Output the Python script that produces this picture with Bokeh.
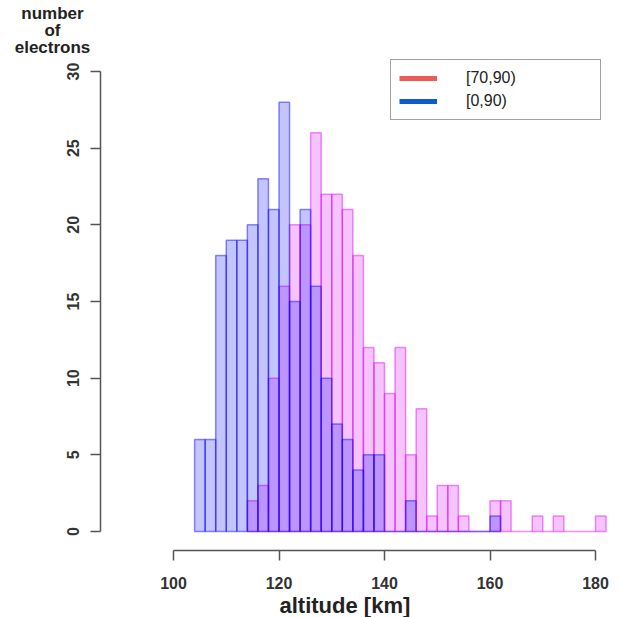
import math
from bokeh.plotting import figure
from bokeh.models import Range1d, Title, Legend, LegendItem, LinearAxis, FixedTicker, ColumnDataSource
from bokeh.embed import file_html
from bokeh.resources import INLINE

# ---- data ----
bin_width = 2
blue_start = 104   # [0,90)
blue_counts = [6, 6, 18, 19, 19, 20, 23, 21, 28, 15, 21, 16, 10, 7, 6, 4, 5, 5,
               0, 0, 2, 0, 0, 0, 0, 0, 0, 0, 1]
pink_start = 114   # [70,90)
pink_counts = [2, 3, 10, 16, 20, 20, 26, 22, 22, 21, 18, 12, 11, 9, 12, 5, 8, 1,
               3, 3, 1, 0, 0, 2, 2, 0, 0, 1, 0, 1, 0, 0, 0, 1]
x_ticks = [100, 120, 140, 160, 180]
y_ticks = [0, 5, 10, 15, 20, 25, 30]
legend_labels = ["[70,90)", "[0,90)"]
y_title_lines = ["number", "of", "electrons"]
x_title = "altitude [km]"

def hist_source(start, counts):
    left = [start + i * bin_width for i in range(len(counts))]
    right = [l + bin_width for l in left]
    return ColumnDataSource(dict(left=left, right=right, top=counts, bottom=[0] * len(counts)))

W, H = 619, 617
FL, FB = 100, 550   # frame left / bottom (canvas px)
FT = 59             # expected frame top (canvas px)
PX_X = 5.275        # px per km
PX_Y = 15.27        # px per count

x0 = 100 - (173 - FL) / PX_X
x1 = x0 + (W - FL) / PX_X
y0 = -(FB - 531) / PX_Y
y1 = 30 + (73 - FT) / PX_Y

p = figure(width=W, height=H, x_range=Range1d(x0, x1), y_range=Range1d(y0, y1),
           output_backend="svg", toolbar_location=None, title="",
           min_border_left=FL, min_border_right=0, min_border_top=0, min_border_bottom=H - FB,
           x_axis_location=None, y_axis_location=None)
p.outline_line_color = None
p.xgrid.visible = False
p.ygrid.visible = False
p.background_fill_color = "white"

font = "Liberation Sans"

xaxis = LinearAxis(bounds=(100, 180), ticker=FixedTicker(ticks=x_ticks))
yaxis = LinearAxis(bounds=(0, 30), ticker=FixedTicker(ticks=y_ticks))
for ax in (xaxis, yaxis):
    ax.axis_line_color = "#555555"
    ax.axis_line_width = 1.5
    ax.major_tick_line_color = "#555555"
    ax.major_tick_line_width = 1.5
    ax.major_tick_out = 10
    ax.major_tick_in = 0
    ax.minor_tick_line_color = None
    ax.major_label_text_font = font
    ax.major_label_text_font_style = "bold"
    ax.major_label_text_font_size = "16px"
    ax.major_label_text_color = "#333333"
xaxis.major_label_standoff = 16
yaxis.major_label_standoff = 11
yaxis.major_label_orientation = "vertical"
p.add_layout(xaxis, "below")
p.add_layout(yaxis, "left")

# x title below the axis
p.add_layout(Title(text=x_title, align="left", offset=279 - FL, standoff=-2,
                   text_font=font, text_font_size="22px", text_font_style="bold",
                   text_color="#222222"), "below")

# y title: three centred lines at the top left (closest to frame first)
widths = {"number": 3.667, "of": 0.944, "electrons": 4.446}
standoffs = {"number": 2, "of": -10, "electrons": 2}
for line in reversed(y_title_lines):
    w = widths[line] * 17
    p.add_layout(Title(text=line, align="left", offset=52 - w / 2 - FL, standoff=standoffs[line],
                       text_font=font, text_font_size="17px", text_font_style="bold",
                       text_color="#222222"), "above")

# bars: pink first, blue on top
p.quad(left="left", right="right", top="top", bottom="bottom", source=hist_source(pink_start, pink_counts),
       fill_color="#d800f8", fill_alpha=0.23, line_color="#e000ff", line_alpha=0.45, line_width=1.5)
p.quad(left="left", right="right", top="top", bottom="bottom", source=hist_source(blue_start, blue_counts),
       fill_color="#0000ff", fill_alpha=0.23, line_color="#0000ff", line_alpha=0.45, line_width=1.5)

# legend proxies (no visible data)
nan = float("nan")
r_red = p.line(x=[nan, nan], y=[nan, nan], line_color="#ec5a54", line_width=5)
r_blue = p.line(x=[nan, nan], y=[nan, nan], line_color="#0e5ccc", line_width=5)
legend = Legend(items=[LegendItem(label=legend_labels[0], renderers=[r_red]),
                       LegendItem(label=legend_labels[1], renderers=[r_blue])],
                location=(390 - FL, FB - 120))
legend.border_line_color = "#444444"
legend.border_line_width = 1.5
legend.padding = 8
legend.margin = 0
legend.spacing = 3
legend.glyph_width = 38
legend.glyph_height = 20
legend.label_height = 20
legend.label_width = 126
legend.label_standoff = 29
legend.label_text_font = font
legend.label_text_font_size = "16px"
legend.label_text_color = "#222222"
legend.background_fill_alpha = 1
p.add_layout(legend)

open("out.html", "w").write(file_html(p, INLINE))
